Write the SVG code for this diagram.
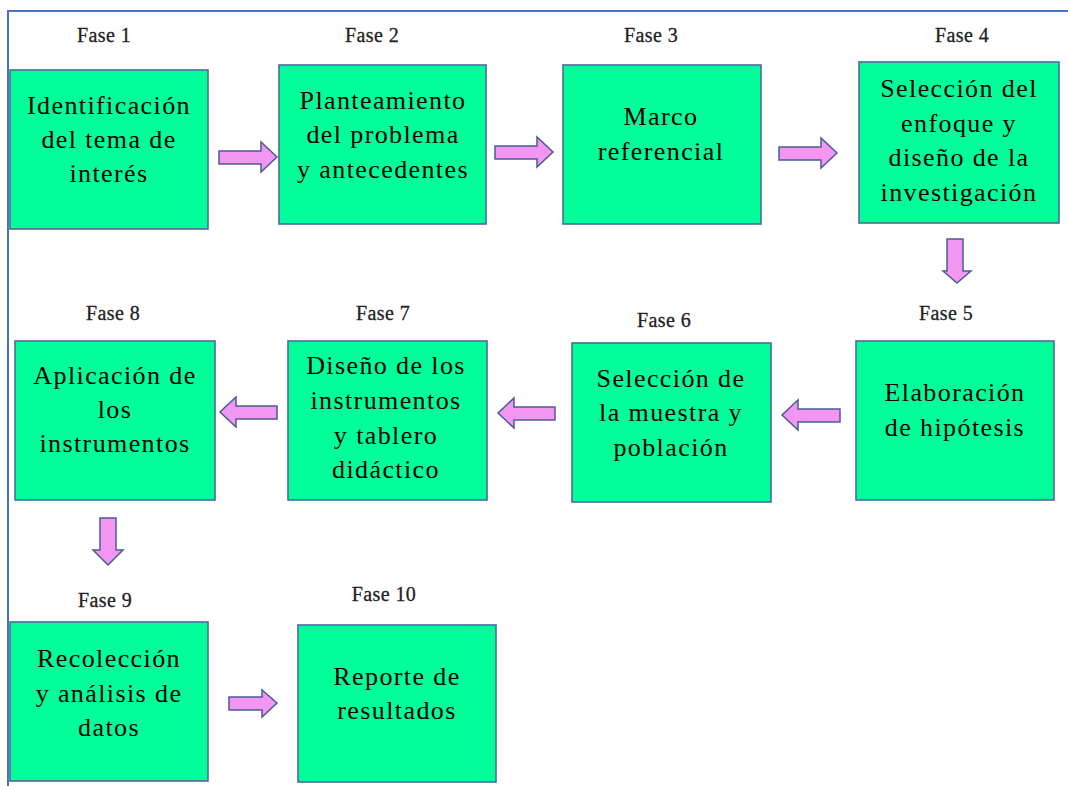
<svg xmlns="http://www.w3.org/2000/svg" width="1068" height="786" viewBox="0 0 1068 786">
<style>
.box{fill:#00FF99;stroke:#4F6A9E;stroke-width:1.6}
.t{font-family:'Liberation Serif','DejaVu Serif','Times New Roman',serif;font-size:26px;letter-spacing:1.4px;fill:#000;text-anchor:middle}
.f{font-family:'Liberation Serif','DejaVu Serif','Times New Roman',serif;font-size:20px;letter-spacing:0.4px;fill:#222;text-anchor:middle;stroke:#222;stroke-width:0.3}
.arr{fill:#F296F2;stroke:#4A5C96;stroke-width:1.5;stroke-linejoin:miter}
.frame{fill:none;stroke:#4472C4;stroke-width:2}
</style>
<rect width="1068" height="786" fill="#fff"/>
<path class="frame" d="M8,786 V11 H1068"/>
<g id="connectors">
<path class="arr" d="M219,151 H261 V142 L277,157 L261,172 V164 H219 Z"/>
<path class="arr" d="M495,146 H537 V137 L553,152 L537,167 V159 H495 Z"/>
<path class="arr" d="M779,147 H821 V138 L837,153 L821,168 V160 H779 Z"/>
<path class="arr" d="M947,239 H963 V271 H971 L957,283 L943,271 H947 Z"/>
<path class="arr" d="M840,409 H798 V400 L782,415 L798,430 V422 H840 Z"/>
<path class="arr" d="M555,407 H514 V398 L498,413 L514,428 V420 H555 Z"/>
<path class="arr" d="M277,406 H236 V397 L220,412 L236,427 V419 H277 Z"/>
<path class="arr" d="M100,518 H116 V550 H123 L108,565 L93,550 H100 Z"/>
<path class="arr" d="M229,697 H262 V690 L277,703 L262,717 V710 H229 Z"/>
</g>
<g id="n1"><rect class="box" x="10" y="70" width="198" height="159"/><text class="f" x="104" y="42">Fase 1</text>
<text class="t" x="109" y="114">Identificación</text><text class="t" x="109" y="148">del tema de</text><text class="t" x="109" y="182">interés</text></g>
<g id="n2"><rect class="box" x="279" y="65" width="207" height="159"/><text class="f" x="372" y="42">Fase 2</text>
<text class="t" x="383" y="109">Planteamiento</text><text class="t" x="383" y="143">del problema</text><text class="t" x="383" y="178">y antecedentes</text></g>
<g id="n3"><rect class="box" x="563" y="65" width="198" height="159"/><text class="f" x="651" y="42">Fase 3</text>
<text class="t" x="661" y="125">Marco</text><text class="t" x="661" y="160">referencial</text></g>
<g id="n4"><rect class="box" x="859" y="62" width="200" height="161"/><text class="f" x="962" y="42">Fase 4</text>
<text class="t" x="959" y="97">Selección del</text><text class="t" x="959" y="132">enfoque y</text><text class="t" x="959" y="166">diseño de la</text><text class="t" x="959" y="201">investigación</text></g>
<g id="n5"><rect class="box" x="856" y="341" width="198" height="159"/><text class="f" x="946" y="320">Fase 5</text>
<text class="t" x="955" y="401">Elaboración</text><text class="t" x="955" y="436">de hipótesis</text></g>
<g id="n6"><rect class="box" x="572" y="343" width="199" height="159"/><text class="f" x="664" y="327">Fase 6</text>
<text class="t" x="671" y="387">Selección de</text><text class="t" x="671" y="421">la muestra y</text><text class="t" x="671" y="456">población</text></g>
<g id="n7"><rect class="box" x="288" y="341" width="199" height="159"/><text class="f" x="383" y="320">Fase 7</text>
<text class="t" x="386" y="374">Diseño de los</text><text class="t" x="386" y="409">instrumentos</text><text class="t" x="386" y="444">y tablero</text><text class="t" x="386" y="478">didáctico</text></g>
<g id="n8"><rect class="box" x="15" y="341" width="200" height="159"/><text class="f" x="113" y="320">Fase 8</text>
<text class="t" x="115" y="384">Aplicación de</text><text class="t" x="115" y="418">los</text><text class="t" x="115" y="452">instrumentos</text></g>
<g id="n9"><rect class="box" x="10" y="622" width="198" height="159"/><text class="f" x="105" y="607">Fase 9</text>
<text class="t" x="109" y="667">Recolección</text><text class="t" x="109" y="702">y análisis de</text><text class="t" x="109" y="736">datos</text></g>
<g id="n10"><rect class="box" x="298" y="625" width="198" height="157"/><text class="f" x="384" y="601">Fase 10</text>
<text class="t" x="397" y="685">Reporte de</text><text class="t" x="397" y="719">resultados</text></g>
</svg>
